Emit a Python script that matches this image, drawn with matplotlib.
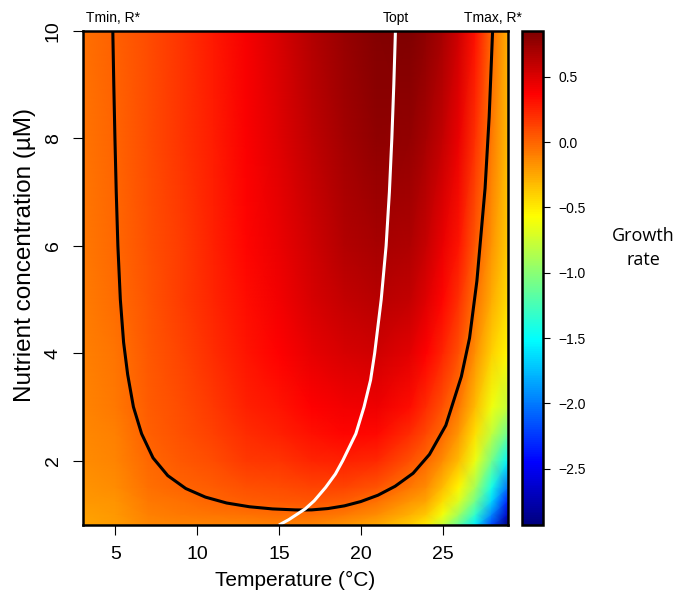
import numpy as np
import matplotlib
matplotlib.use('Agg')
import matplotlib.pyplot as plt
from matplotlib.colors import LinearSegmentedColormap
from matplotlib.transforms import blended_transform_factory

plt.rcParams['font.family'] = ['Liberation Sans', 'DejaVu Sans']

# grid
temps = [3, 5, 7, 9, 11, 13, 15, 17, 19, 21, 23, 24, 25, 26, 27, 28, 29]
nutrients = [0.8, 1.0, 1.25, 1.5, 2.0, 2.5, 3.0, 4.0, 5.0, 6.0, 8.0, 10.0]

# growth rate, one row per temperature (columns follow nutrients)
growth_by_temp = [
    [-0.235, -0.214, -0.193, -0.176, -0.150, -0.130, -0.116, -0.095, -0.081, -0.070, -0.057, -0.048],
    [-0.210, -0.190, -0.169, -0.151, -0.121, -0.098, -0.080, -0.052, -0.032, -0.017, 0.003, 0.017],
    [-0.135, -0.102, -0.070, -0.047, -0.013, 0.010, 0.027, 0.049, 0.064, 0.074, 0.087, 0.095],
    [-0.124, -0.079, -0.037, -0.006, 0.040, 0.071, 0.093, 0.123, 0.142, 0.156, 0.173, 0.184],
    [-0.119, -0.061, -0.006, 0.036, 0.096, 0.137, 0.166, 0.206, 0.231, 0.249, 0.272, 0.286],
    [-0.120, -0.045, 0.026, 0.080, 0.157, 0.209, 0.246, 0.297, 0.329, 0.352, 0.382, 0.400],
    [-0.101, -0.032, 0.038, 0.096, 0.183, 0.247, 0.296, 0.366, 0.413, 0.447, 0.492, 0.522],
    [-0.115, -0.031, 0.055, 0.125, 0.232, 0.311, 0.370, 0.455, 0.512, 0.554, 0.610, 0.646],
    [-0.171, -0.069, 0.036, 0.122, 0.253, 0.348, 0.421, 0.525, 0.595, 0.645, 0.714, 0.758],
    [-0.25, -0.15, -0.04, 0.06, 0.22, 0.335, 0.424, 0.55, 0.636, 0.698, 0.781, 0.835],
    [-0.38, -0.28, -0.17, -0.08, 0.08, 0.21, 0.32, 0.48, 0.59, 0.67, 0.77, 0.84],
    [-0.50, -0.37, -0.24, -0.14, -0.01, 0.11, 0.21, 0.37, 0.49, 0.58, 0.70, 0.79],
    [-0.78, -0.60, -0.44, -0.32, -0.14, -0.02, 0.07, 0.23, 0.35, 0.45, 0.59, 0.69],
    [-1.15, -0.92, -0.70, -0.54, -0.33, -0.19, -0.08, 0.08, 0.20, 0.30, 0.44, 0.54],
    [-1.58, -1.33, -1.08, -0.90, -0.64, -0.46, -0.33, -0.16, -0.05, 0.04, 0.19, 0.31],
    [-2.20, -1.95, -1.65, -1.43, -1.08, -0.80, -0.62, -0.40, -0.27, -0.18, -0.08, -0.02],
    [-2.93, -2.65, -2.35, -2.05, -1.55, -1.12, -0.80, -0.55, -0.44, -0.38, -0.32, -0.28],
]

# zero growth line (Tmin / R* / Tmax)
zero_T = [4.84, 4.9, 4.97, 5.05, 5.15, 5.3, 5.5, 5.75, 6.1, 6.6, 7.3, 8.2, 9.3, 10.5, 11.8,
          13.2, 14.6, 16.0, 16.5, 17.0, 18.0, 19.0, 20.0, 21.05, 22.1, 23.2, 24.2, 25.2,
          26.15, 26.65, 27.1, 27.6, 27.85, 28.06]
zero_N = [10.0, 9.0, 8.0, 7.0, 6.0, 5.0, 4.2, 3.6, 3.0, 2.5, 2.05, 1.72, 1.48, 1.32, 1.21,
          1.14, 1.10, 1.082, 1.08, 1.082, 1.107, 1.157, 1.237, 1.355, 1.522, 1.764, 2.115, 2.656,
          3.566, 4.28, 5.346, 7.07, 8.40, 10.0]

# optimum temperature line
topt_T = [15.0, 15.6, 16.1, 16.6, 17.15, 17.85, 18.45, 18.9, 19.7, 20.2, 20.6, 20.85,
          21.25, 21.55, 21.75, 21.9, 22.02, 22.12]
topt_N = [0.8, 0.9, 1.0, 1.1, 1.25, 1.5, 1.75, 2.0, 2.5, 3.0, 3.5, 4.0,
          5.0, 6.0, 7.0, 8.0, 9.0, 10.0]

zmin, zmax = -2.93, 0.85
cmap = LinearSegmentedColormap.from_list(
    'jet9', ['#00007F', '#0000FF', '#007FFF', '#00FFFF', '#7FFF7F',
             '#FFFF00', '#FF7F00', '#FF0000', '#7F0000'], N=256)

fig = plt.figure(figsize=(6.87, 5.95), dpi=100)
ax = fig.add_axes([0.1204, 0.1176, 0.6190, 0.8303])
cax = fig.add_axes([0.7594, 0.1176, 0.0314, 0.8303])

TT, NN = np.meshgrid(temps, nutrients)
Z = np.array(growth_by_temp).T
mesh = ax.pcolormesh(TT, NN, Z, shading='gouraud', cmap=cmap, vmin=zmin, vmax=zmax,
                     rasterized=True)

ax.plot(zero_T, zero_N, color='black', lw=2.2, solid_capstyle='butt')
ax.plot(topt_T, topt_N, color='white', lw=2.2, solid_capstyle='butt')

ax.set_xlim(3, 29)
ax.set_ylim(0.8, 10)
ax.set_xticks([5, 10, 15, 20, 25])
ax.set_yticks([2, 4, 6, 8, 10])
ax.tick_params(direction='out', length=7, width=0.8, labelsize=14, pad=8)
for lab in ax.get_yticklabels():
    lab.set_rotation(90)
    lab.set_va('center')
for sp in ax.spines.values():
    sp.set_linewidth(1.8)

ax.set_xlabel('Temperature (°C)', fontsize=15, labelpad=6)
fig.text(0.036, 0.571, 'Nutrient concentration (µM)', rotation=90, ha='center', va='center',
         fontsize=17.5)

# labels above the plot at the line ends
trans = blended_transform_factory(ax.transData, ax.transAxes)
ax.text(zero_T[0], 1.012, 'Tmin, R*', transform=trans, ha='center', va='bottom', fontsize=10)
ax.text(topt_T[-1], 1.012, 'Topt', transform=trans, ha='center', va='bottom', fontsize=10)
ax.text(zero_T[-1], 1.012, 'Tmax, R*', transform=trans, ha='center', va='bottom', fontsize=10)

cb = fig.colorbar(mesh, cax=cax, ticks=[0.5, 0.0, -0.5, -1.0, -1.5, -2.0, -2.5])
cb.ax.tick_params(direction='out', length=5, width=0.8, labelsize=10, pad=6)
cb.outline.set_linewidth(1.8)
cb.ax.set_yticklabels(['0.5', '0.0', '\u22120.5', '\u22121.0', '\u22121.5', '\u22122.0', '\u22122.5'])

fig.text(0.936, 0.583, 'Growth\nrate', ha='center', va='center', fontsize=13,
         family=['Open Sans', 'DejaVu Sans'], linespacing=1.4)

fig.savefig('out.png', dpi=100)
